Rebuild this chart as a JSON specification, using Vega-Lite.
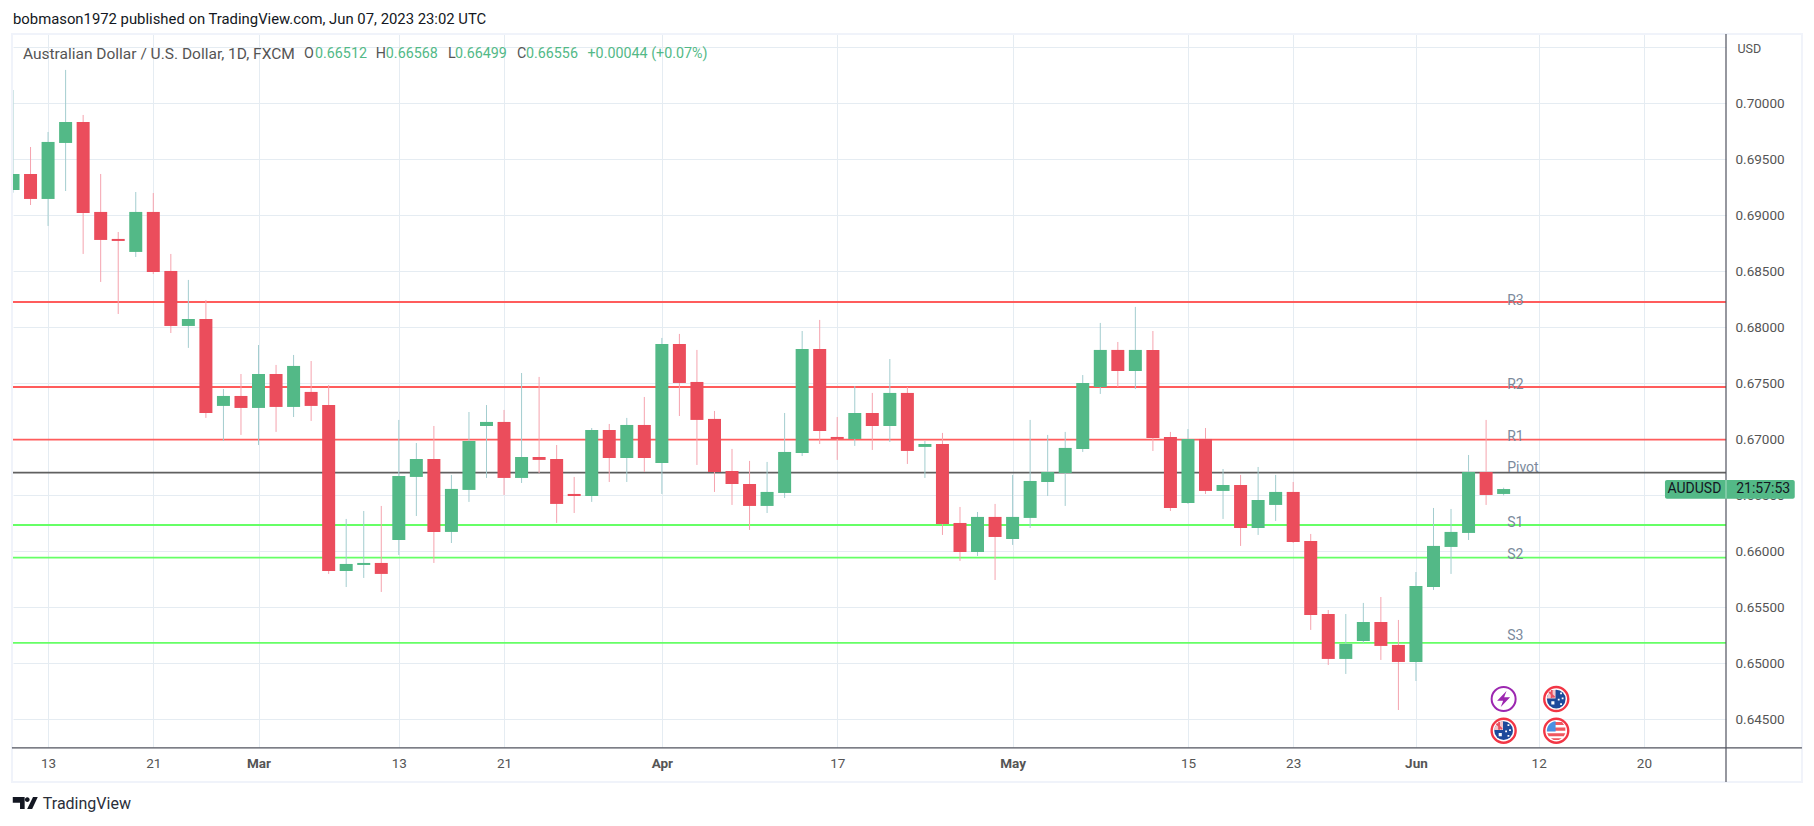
{"$schema":"https://vega.github.io/schema/vega-lite/v6.json","width":1713,"height":713,"autosize":"none","padding":{"left":13,"top":34,"right":88,"bottom":79},"background":"white","config":{"view":{"stroke":null},"font":"Roboto","scale":{"continuousPadding":0}},
"datasets":{
"candles":[
{"bar":0,"date":"2023-02-09","open":0.69226,"high":0.70119,"low":0.69202,"close":0.69369},
{"bar":1,"date":"2023-02-10","open":0.69369,"high":0.69610,"low":0.69092,"close":0.69146},
{"bar":2,"date":"2023-02-13","open":0.69146,"high":0.69744,"low":0.68905,"close":0.69655},
{"bar":3,"date":"2023-02-14","open":0.69646,"high":0.70298,"low":0.69217,"close":0.69833},
{"bar":4,"date":"2023-02-15","open":0.69833,"high":0.69896,"low":0.68655,"close":0.69021},
{"bar":5,"date":"2023-02-16","open":0.69030,"high":0.69369,"low":0.68405,"close":0.68780},
{"bar":6,"date":"2023-02-17","open":0.68789,"high":0.68851,"low":0.68119,"close":0.68771},
{"bar":7,"date":"2023-02-20","open":0.68673,"high":0.69208,"low":0.68628,"close":0.69030},
{"bar":8,"date":"2023-02-21","open":0.69030,"high":0.69199,"low":0.68476,"close":0.68494},
{"bar":9,"date":"2023-02-22","open":0.68503,"high":0.68655,"low":0.67949,"close":0.68012},
{"bar":10,"date":"2023-02-23","open":0.68012,"high":0.68423,"low":0.67816,"close":0.68074},
{"bar":11,"date":"2023-02-24","open":0.68074,"high":0.68244,"low":0.67191,"close":0.67235},
{"bar":12,"date":"2023-02-27","open":0.67298,"high":0.67449,"low":0.66985,"close":0.67387},
{"bar":13,"date":"2023-02-28","open":0.67387,"high":0.67583,"low":0.67039,"close":0.67280},
{"bar":14,"date":"2023-03-01","open":0.67280,"high":0.67842,"low":0.66949,"close":0.67583},
{"bar":15,"date":"2023-03-02","open":0.67583,"high":0.67664,"low":0.67066,"close":0.67289},
{"bar":16,"date":"2023-03-03","open":0.67289,"high":0.67753,"low":0.67199,"close":0.67655},
{"bar":17,"date":"2023-03-06","open":0.67423,"high":0.67699,"low":0.67164,"close":0.67298},
{"bar":18,"date":"2023-03-07","open":0.67306,"high":0.67485,"low":0.65798,"close":0.65824},
{"bar":19,"date":"2023-03-08","open":0.65824,"high":0.66289,"low":0.65681,"close":0.65887},
{"bar":20,"date":"2023-03-09","open":0.65878,"high":0.66360,"low":0.65762,"close":0.65896},
{"bar":21,"date":"2023-03-10","open":0.65896,"high":0.66405,"low":0.65637,"close":0.65798},
{"bar":22,"date":"2023-03-13","open":0.66101,"high":0.67173,"low":0.65967,"close":0.66673},
{"bar":23,"date":"2023-03-14","open":0.66664,"high":0.66967,"low":0.66315,"close":0.66824},
{"bar":24,"date":"2023-03-15","open":0.66824,"high":0.67119,"low":0.65896,"close":0.66173},
{"bar":25,"date":"2023-03-16","open":0.66173,"high":0.66682,"low":0.66074,"close":0.66557},
{"bar":26,"date":"2023-03-17","open":0.66548,"high":0.67244,"low":0.66441,"close":0.66985},
{"bar":27,"date":"2023-03-20","open":0.67119,"high":0.67306,"low":0.66655,"close":0.67155},
{"bar":28,"date":"2023-03-21","open":0.67155,"high":0.67262,"low":0.66503,"close":0.66655},
{"bar":29,"date":"2023-03-22","open":0.66655,"high":0.67592,"low":0.66610,"close":0.66842},
{"bar":30,"date":"2023-03-23","open":0.66842,"high":0.67557,"low":0.66699,"close":0.66816},
{"bar":31,"date":"2023-03-24","open":0.66824,"high":0.66949,"low":0.66253,"close":0.66423},
{"bar":32,"date":"2023-03-27","open":0.66512,"high":0.66664,"low":0.66342,"close":0.66494},
{"bar":33,"date":"2023-03-28","open":0.66494,"high":0.67101,"low":0.66441,"close":0.67083},
{"bar":34,"date":"2023-03-29","open":0.67083,"high":0.67137,"low":0.66619,"close":0.66833},
{"bar":35,"date":"2023-03-30","open":0.66833,"high":0.67191,"low":0.66619,"close":0.67128},
{"bar":36,"date":"2023-03-31","open":0.67128,"high":0.67378,"low":0.66708,"close":0.66833},
{"bar":37,"date":"2023-04-03","open":0.66789,"high":0.67905,"low":0.66512,"close":0.67851},
{"bar":38,"date":"2023-04-04","open":0.67851,"high":0.67941,"low":0.67208,"close":0.67503},
{"bar":39,"date":"2023-04-05","open":0.67512,"high":0.67798,"low":0.66771,"close":0.67173},
{"bar":40,"date":"2023-04-06","open":0.67182,"high":0.67253,"low":0.66530,"close":0.66708},
{"bar":41,"date":"2023-04-07","open":0.66717,"high":0.66914,"low":0.66414,"close":0.66601},
{"bar":42,"date":"2023-04-10","open":0.66601,"high":0.66807,"low":0.66191,"close":0.66405},
{"bar":43,"date":"2023-04-11","open":0.66405,"high":0.66798,"low":0.66342,"close":0.66530},
{"bar":44,"date":"2023-04-12","open":0.66521,"high":0.67235,"low":0.66476,"close":0.66887},
{"bar":45,"date":"2023-04-13","open":0.66878,"high":0.67967,"low":0.66851,"close":0.67807},
{"bar":46,"date":"2023-04-14","open":0.67807,"high":0.68066,"low":0.66958,"close":0.67074},
{"bar":47,"date":"2023-04-17","open":0.67021,"high":0.67199,"low":0.66816,"close":0.67003},
{"bar":48,"date":"2023-04-18","open":0.67003,"high":0.67476,"low":0.66941,"close":0.67235},
{"bar":49,"date":"2023-04-19","open":0.67235,"high":0.67414,"low":0.66905,"close":0.67119},
{"bar":50,"date":"2023-04-20","open":0.67119,"high":0.67717,"low":0.66976,"close":0.67414},
{"bar":51,"date":"2023-04-21","open":0.67414,"high":0.67467,"low":0.66780,"close":0.66896},
{"bar":52,"date":"2023-04-24","open":0.66932,"high":0.66985,"low":0.66655,"close":0.66958},
{"bar":53,"date":"2023-04-25","open":0.66958,"high":0.67057,"low":0.66146,"close":0.66244},
{"bar":54,"date":"2023-04-26","open":0.66253,"high":0.66396,"low":0.65914,"close":0.65994},
{"bar":55,"date":"2023-04-27","open":0.65994,"high":0.66351,"low":0.65958,"close":0.66307},
{"bar":56,"date":"2023-04-28","open":0.66307,"high":0.66423,"low":0.65744,"close":0.66128},
{"bar":57,"date":"2023-05-01","open":0.66110,"high":0.66682,"low":0.66057,"close":0.66307},
{"bar":58,"date":"2023-05-02","open":0.66298,"high":0.67173,"low":0.66208,"close":0.66628},
{"bar":59,"date":"2023-05-03","open":0.66619,"high":0.67039,"low":0.66494,"close":0.66708},
{"bar":60,"date":"2023-05-04","open":0.66699,"high":0.67066,"low":0.66405,"close":0.66923},
{"bar":61,"date":"2023-05-05","open":0.66914,"high":0.67574,"low":0.66887,"close":0.67503},
{"bar":62,"date":"2023-05-08","open":0.67467,"high":0.68039,"low":0.67405,"close":0.67798},
{"bar":63,"date":"2023-05-09","open":0.67798,"high":0.67869,"low":0.67467,"close":0.67610},
{"bar":64,"date":"2023-05-10","open":0.67610,"high":0.68182,"low":0.67449,"close":0.67798},
{"bar":65,"date":"2023-05-11","open":0.67798,"high":0.67967,"low":0.66896,"close":0.67012},
{"bar":66,"date":"2023-05-12","open":0.67021,"high":0.67066,"low":0.66360,"close":0.66387},
{"bar":67,"date":"2023-05-15","open":0.66431,"high":0.67092,"low":0.66423,"close":0.67003},
{"bar":68,"date":"2023-05-16","open":0.67003,"high":0.67101,"low":0.66512,"close":0.66539},
{"bar":69,"date":"2023-05-17","open":0.66539,"high":0.66735,"low":0.66289,"close":0.66592},
{"bar":70,"date":"2023-05-18","open":0.66592,"high":0.66682,"low":0.66048,"close":0.66208},
{"bar":71,"date":"2023-05-19","open":0.66208,"high":0.66753,"low":0.66146,"close":0.66458},
{"bar":72,"date":"2023-05-22","open":0.66414,"high":0.66682,"low":0.66271,"close":0.66530},
{"bar":73,"date":"2023-05-23","open":0.66530,"high":0.66619,"low":0.66074,"close":0.66083},
{"bar":74,"date":"2023-05-24","open":0.66092,"high":0.66155,"low":0.65298,"close":0.65431},
{"bar":75,"date":"2023-05-25","open":0.65440,"high":0.65476,"low":0.64985,"close":0.65039},
{"bar":76,"date":"2023-05-26","open":0.65039,"high":0.65440,"low":0.64905,"close":0.65173},
{"bar":77,"date":"2023-05-29","open":0.65199,"high":0.65539,"low":0.65181,"close":0.65369},
{"bar":78,"date":"2023-05-30","open":0.65369,"high":0.65592,"low":0.65030,"close":0.65155},
{"bar":79,"date":"2023-05-31","open":0.65164,"high":0.65387,"low":0.64583,"close":0.65012},
{"bar":80,"date":"2023-06-01","open":0.65012,"high":0.65815,"low":0.64842,"close":0.65690},
{"bar":81,"date":"2023-06-02","open":0.65681,"high":0.66387,"low":0.65655,"close":0.66048},
{"bar":82,"date":"2023-06-05","open":0.66039,"high":0.66378,"low":0.65798,"close":0.66173},
{"bar":83,"date":"2023-06-06","open":0.66164,"high":0.66860,"low":0.66101,"close":0.66708},
{"bar":84,"date":"2023-06-07","open":0.66708,"high":0.67173,"low":0.66414,"close":0.66503},
{"bar":85,"date":"2023-06-08","open":0.66512,"high":0.66568,"low":0.66499,"close":0.66556}],
"levels":[
{"name":"R3","price":0.68226,"labelPrice":0.68235,"tone":"resistance"},
{"name":"R2","price":0.67467,"labelPrice":0.67489,"tone":"resistance"},
{"name":"R1","price":0.66997,"labelPrice":0.67023,"tone":"resistance"},
{"name":"Pivot","price":0.66702,"labelPrice":0.66744,"tone":"pivot"},
{"name":"S1","price":0.66235,"labelPrice":0.66255,"tone":"support"},
{"name":"S2","price":0.65943,"labelPrice":0.65970,"tone":"support"},
{"name":"S3","price":0.65182,"labelPrice":0.65246,"tone":"support"}],
"frame":[{"bar":-0.06,"bar2":102.01,"price":0.70619,"price2":0.6394}],
"bottomAxis":[{"bar":-0.06,"bar2":102.01,"price":0.64245}],
"rightAxis":[{"bar":97.68,"price":0.70619,"price2":0.6394}],
"header":[
{"text":"Australian Dollar / U.S. Dollar, 1D, FXCM","bar":0.565,"tone":"grey"},
{"text":"O","bar":16.59,"tone":"grey"},
{"text":"0.66512","bar":17.22,"tone":"green"},
{"text":"H","bar":20.69,"tone":"grey"},
{"text":"0.66568","bar":21.26,"tone":"green"},
{"text":"L","bar":24.8,"tone":"grey"},
{"text":"0.66499","bar":25.2,"tone":"green"},
{"text":"C","bar":28.74,"tone":"grey"},
{"text":"0.66556","bar":29.25,"tone":"green"},
{"text":"+0.00044 (+0.07%)","bar":32.76,"tone":"green"}],
"publisher":[{"text":"bobmason1972 published on TradingView.com, Jun 07, 2023 23:02 UTC","bar":0,"price":0.70744}],
"brand":[{"text":"TradingView","bar":1.7,"price":0.63745}],
"logo":[{"bar":0.7,"price":0.63753}],
"currency":[{"text":"USD","bar":98.33,"price":0.70485}],
"tag":[{"bar":94.2,"bar2":101.6,"price":0.66637,"price2":0.6647}],
"tagDivider":[{"bar":97.68,"price":0.66637,"price2":0.6647}],
"tagText":[{"text":"AUDUSD","bar":95.88,"price":0.66553},{"text":"21:57:53","bar":99.8,"price":0.66553}],
"events":[
{"bar":85,"price":0.64681,"kind":"bolt"},
{"bar":88,"price":0.64681,"kind":"au"},
{"bar":85,"price":0.64398,"kind":"au"},
{"bar":88,"price":0.64398,"kind":"us"}]
},
"layer":[
{"data":{"name":"frame"},"mark":{"type":"rect","fill":"white","stroke":"#f0f3fa","strokeWidth":2,"fillOpacity":0},
 "encoding":{
  "x":{"field":"bar","type":"quantitative","title":null,"scale":{"domain":[0,97.68],"nice":false,"zero":false},
   "axis":{"values":[2,8,14,22,28,37,47,57,67,73,80,87,93],"labelExpr":"{'2':'13','8':'21','14':'Mar','22':'13','28':'21','37':'Apr','47':'17','57':'May','67':'15','73':'23','80':'Jun','87':'12','93':'20'}[datum.value]","domain":false,"ticks":false,"grid":true,"gridColor":"#e5ecf2","gridWidth":1,"labelFont":"Roboto","labelFontSize":13.5,"labelColor":"#555","labelPadding":9,"labelFontWeight":{"condition":{"test":"indexof([14,37,57,80],datum.value)>=0","value":"bold"},"value":"normal"},"labelOverlap":false,"zindex":0}},
  "x2":{"field":"bar2"},
  "y":{"field":"price","type":"quantitative","title":null,"scale":{"domain":[0.642527,0.706188],"nice":false,"zero":false},
   "axis":{"orient":"right","values":[0.645,0.65,0.655,0.66,0.665,0.67,0.675,0.68,0.685,0.69,0.695,0.7,0.705],"labelExpr":"datum.value>0.704?'':format(datum.value,'.5f')","domain":false,"ticks":false,"grid":true,"gridColor":"#e5ecf2","gridWidth":1,"labelFont":"Roboto","labelFontSize":13.5,"labelColor":"#555","labelPadding":9,"labelOverlap":false,"zindex":0}},
  "y2":{"field":"price2"}}},
{"data":{"name":"levels"},"mark":{"type":"rule","strokeWidth":1.8},
 "encoding":{"y":{"field":"price","type":"quantitative","title":null,"scale":{"domain":[0.642527,0.706188],"nice":false,"zero":false}},
  "color":{"condition":[{"test":"datum.tone=='resistance'","value":"#ff5c5c"},{"test":"datum.tone=='support'","value":"#66ff66"}],"value":"#606060"}}},
{"data":{"name":"candles"},"mark":{"type":"rule","strokeWidth":1,"clip":true},
 "encoding":{"x":{"field":"bar","type":"quantitative","title":null,"scale":{"domain":[0,97.68],"nice":false,"zero":false}},"y":{"field":"low","type":"quantitative","title":null,"scale":{"domain":[0.642527,0.706188],"nice":false,"zero":false}},"y2":{"field":"high"},
  "color":{"condition":{"test":"datum.close>=datum.open","value":"#a3cdcf"},"value":"#f5a3ae"}}},
{"data":{"name":"candles"},"mark":{"type":"bar","size":13,"clip":true,"stroke":null},
 "encoding":{"x":{"field":"bar","type":"quantitative","title":null,"scale":{"domain":[0,97.68],"nice":false,"zero":false}},"y":{"field":"open","type":"quantitative","title":null,"scale":{"domain":[0.642527,0.706188],"nice":false,"zero":false}},"y2":{"field":"close"},
  "color":{"condition":{"test":"datum.close>=datum.open","value":"#53b987"},"value":"#eb4d5c"}}},
{"data":{"name":"levels"},"mark":{"type":"text","align":"left","baseline":"middle","font":"Roboto","fontSize":14,"color":"#7b8a9c"},
 "encoding":{"x":{"datum":85.2,"type":"quantitative","scale":{"domain":[0,97.68],"nice":false,"zero":false}},"y":{"field":"labelPrice","type":"quantitative","title":null,"scale":{"domain":[0.642527,0.706188],"nice":false,"zero":false}},"text":{"field":"name"}}},
{"data":{"name":"header"},"mark":{"type":"text","align":"left","baseline":"middle","font":"Roboto"},
 "encoding":{"x":{"field":"bar","type":"quantitative","title":null,"scale":{"domain":[0,97.68],"nice":false,"zero":false}},"y":{"datum":0.70443,"type":"quantitative","scale":{"domain":[0.642527,0.706188],"nice":false,"zero":false}},"text":{"field":"text"},
  "size":{"condition":{"test":"datum.bar<1","value":15.5},"value":14.3},
  "color":{"condition":{"test":"datum.tone=='green'","value":"#53b987"},"value":"#555"}}},
{"data":{"name":"publisher"},"mark":{"type":"text","align":"left","baseline":"middle","font":"Roboto","fontSize":14.85,"color":"#131722"},
 "encoding":{"x":{"field":"bar","type":"quantitative","title":null,"scale":{"domain":[0,97.68],"nice":false,"zero":false}},"y":{"field":"price","type":"quantitative","title":null,"scale":{"domain":[0.642527,0.706188],"nice":false,"zero":false}},"text":{"field":"text"}}},
{"data":{"name":"brand"},"mark":{"type":"text","align":"left","baseline":"middle","font":"Roboto","fontSize":16,"color":"#2a2e39"},
 "encoding":{"x":{"field":"bar","type":"quantitative","title":null,"scale":{"domain":[0,97.68],"nice":false,"zero":false}},"y":{"field":"price","type":"quantitative","title":null,"scale":{"domain":[0.642527,0.706188],"nice":false,"zero":false}},"text":{"field":"text"}}},
{"data":{"name":"logo"},"mark":{"type":"point","filled":true,"opacity":1,"size":625,"color":"#131722","strokeWidth":0,"shape":"M-1,-.48H-.05V.48H-.42V-.02H-1ZM.62,-.48H1L.55,.48H.15ZM.16,-.46A.19,.19 0 1 1 .16,-.08A.19,.19 0 1 1 .16,-.46Z"},
 "encoding":{"x":{"field":"bar","type":"quantitative","title":null,"scale":{"domain":[0,97.68],"nice":false,"zero":false}},"y":{"field":"price","type":"quantitative","title":null,"scale":{"domain":[0.642527,0.706188],"nice":false,"zero":false}}}},
{"data":{"name":"rightAxis"},"mark":{"type":"rule","color":"#50535e","strokeWidth":1.2},
 "encoding":{"x":{"field":"bar","type":"quantitative","title":null,"scale":{"domain":[0,97.68],"nice":false,"zero":false}},"y":{"field":"price","type":"quantitative","title":null,"scale":{"domain":[0.642527,0.706188],"nice":false,"zero":false}},"y2":{"field":"price2"}}},
{"data":{"name":"bottomAxis"},"mark":{"type":"rule","color":"#50535e","strokeWidth":1.2},
 "encoding":{"x":{"field":"bar","type":"quantitative","title":null,"scale":{"domain":[0,97.68],"nice":false,"zero":false}},"x2":{"field":"bar2"},"y":{"field":"price","type":"quantitative","title":null,"scale":{"domain":[0.642527,0.706188],"nice":false,"zero":false}}}},
{"data":{"name":"currency"},"mark":{"type":"text","align":"left","baseline":"middle","font":"Roboto","fontSize":12.5,"color":"#555"},
 "encoding":{"x":{"field":"bar","type":"quantitative","title":null,"scale":{"domain":[0,97.68],"nice":false,"zero":false}},"y":{"field":"price","type":"quantitative","title":null,"scale":{"domain":[0.642527,0.706188],"nice":false,"zero":false}},"text":{"field":"text"}}},
{"data":{"name":"tag"},"mark":{"type":"rect","fill":"#53b987","cornerRadius":2},
 "encoding":{"x":{"field":"bar","type":"quantitative","title":null,"scale":{"domain":[0,97.68],"nice":false,"zero":false}},"x2":{"field":"bar2"},"y":{"field":"price","type":"quantitative","title":null,"scale":{"domain":[0.642527,0.706188],"nice":false,"zero":false}},"y2":{"field":"price2"}}},
{"data":{"name":"tagDivider"},"mark":{"type":"rule","color":"#a9dcc3","strokeWidth":1},
 "encoding":{"x":{"field":"bar","type":"quantitative","title":null,"scale":{"domain":[0,97.68],"nice":false,"zero":false}},"y":{"field":"price","type":"quantitative","title":null,"scale":{"domain":[0.642527,0.706188],"nice":false,"zero":false}},"y2":{"field":"price2"}}},
{"data":{"name":"tagText"},"mark":{"type":"text","align":"center","baseline":"middle","font":"Roboto","fontSize":14,"color":"#131722"},
 "encoding":{"x":{"field":"bar","type":"quantitative","title":null,"scale":{"domain":[0,97.68],"nice":false,"zero":false}},"y":{"field":"price","type":"quantitative","title":null,"scale":{"domain":[0.642527,0.706188],"nice":false,"zero":false}},"text":{"field":"text"}}},
{"data":{"name":"events"},"transform":[{"filter":"datum.kind=='bolt'"}],"mark":{"type":"point","shape":"circle","size":576,"fill":"white","fillOpacity":1,"stroke":"#9c27b0","strokeWidth":2,"opacity":1},
 "encoding":{"x":{"field":"bar","type":"quantitative","title":null,"scale":{"domain":[0,97.68],"nice":false,"zero":false}},"y":{"field":"price","type":"quantitative","title":null,"scale":{"domain":[0.642527,0.706188],"nice":false,"zero":false}}}},
{"data":{"name":"events"},"transform":[{"filter":"datum.kind=='bolt'"}],"mark":{"type":"point","filled":true,"size":676,"color":"#9c27b0","opacity":1,"strokeWidth":0,"shape":"M.22,-.62L-.5,.14H-.04L-.22,.62L.5,-.14H.04Z"},
 "encoding":{"x":{"field":"bar","type":"quantitative","title":null,"scale":{"domain":[0,97.68],"nice":false,"zero":false}},"y":{"field":"price","type":"quantitative","title":null,"scale":{"domain":[0.642527,0.706188],"nice":false,"zero":false}}}},
{"data":{"name":"events"},"transform":[{"filter":"datum.kind!='bolt'"}],"mark":{"type":"point","shape":"circle","size":576,"fill":"white","fillOpacity":1,"stroke":"#f23645","strokeWidth":2.4,"opacity":1},
 "encoding":{"x":{"field":"bar","type":"quantitative","title":null,"scale":{"domain":[0,97.68],"nice":false,"zero":false}},"y":{"field":"price","type":"quantitative","title":null,"scale":{"domain":[0.642527,0.706188],"nice":false,"zero":false}}}},
{"data":{"name":"events"},"transform":[{"filter":"datum.kind=='au'"}],"mark":{"type":"point","shape":"circle","size":350,"filled":true,"color":"#1d4a9b","opacity":1,"strokeWidth":0},
 "encoding":{"x":{"field":"bar","type":"quantitative","title":null,"scale":{"domain":[0,97.68],"nice":false,"zero":false}},"y":{"field":"price","type":"quantitative","title":null,"scale":{"domain":[0.642527,0.706188],"nice":false,"zero":false}}}},
{"data":{"name":"events"},"transform":[{"filter":"datum.kind=='au'"}],"mark":{"type":"point","filled":true,"size":676,"color":"#f3c6cc","opacity":1,"strokeWidth":0,"shape":"M-.72,-.05A.72,.72 0 0 1 -.05,-.72V-.05Z"},
 "encoding":{"x":{"field":"bar","type":"quantitative","title":null,"scale":{"domain":[0,97.68],"nice":false,"zero":false}},"y":{"field":"price","type":"quantitative","title":null,"scale":{"domain":[0.642527,0.706188],"nice":false,"zero":false}}}},
{"data":{"name":"events"},"transform":[{"filter":"datum.kind=='au'"}],"mark":{"type":"point","filled":true,"size":676,"color":"#e9505f","opacity":1,"strokeWidth":0,"shape":"M-.5,-.6L-.08,-.18L-.18,-.08L-.6,-.5ZM-.42,-.7H-.28V-.08H-.42Z"},
 "encoding":{"x":{"field":"bar","type":"quantitative","title":null,"scale":{"domain":[0,97.68],"nice":false,"zero":false}},"y":{"field":"price","type":"quantitative","title":null,"scale":{"domain":[0.642527,0.706188],"nice":false,"zero":false}}}},
{"data":{"name":"events"},"transform":[{"filter":"datum.kind=='au'"}],"mark":{"type":"point","filled":true,"size":676,"color":"white","opacity":1,"strokeWidth":0,"shape":"M-.38,.18h.24v.24h-.24ZM.3,-.5h.14v.14h-.14ZM.42,-.12h.14v.14h-.14ZM.12,-.02h.14v.14h-.14ZM.3,.32h.14v.14h-.14Z"},
 "encoding":{"x":{"field":"bar","type":"quantitative","title":null,"scale":{"domain":[0,97.68],"nice":false,"zero":false}},"y":{"field":"price","type":"quantitative","title":null,"scale":{"domain":[0.642527,0.706188],"nice":false,"zero":false}}}},
{"data":{"name":"events"},"transform":[{"filter":"datum.kind=='us'"}],"mark":{"type":"point","filled":true,"size":676,"color":"#f0575f","opacity":1,"strokeWidth":0,"shape":"M-.1,-.68H.45L.6,-.45H-.1ZM-.1,-.24H.7V0H-.1ZM-.7,.2H.7L.58,.42H-.58ZM-.42,.58H.42L.2,.72H-.2Z"},
 "encoding":{"x":{"field":"bar","type":"quantitative","title":null,"scale":{"domain":[0,97.68],"nice":false,"zero":false}},"y":{"field":"price","type":"quantitative","title":null,"scale":{"domain":[0.642527,0.706188],"nice":false,"zero":false}}}},
{"data":{"name":"events"},"transform":[{"filter":"datum.kind=='us'"}],"mark":{"type":"point","filled":true,"size":676,"color":"#4a90e2","opacity":1,"strokeWidth":0,"shape":"M-.72,.05A.72,.72 0 0 1 -.05,-.72V.05Z"},
 "encoding":{"x":{"field":"bar","type":"quantitative","title":null,"scale":{"domain":[0,97.68],"nice":false,"zero":false}},"y":{"field":"price","type":"quantitative","title":null,"scale":{"domain":[0.642527,0.706188],"nice":false,"zero":false}}}}
]}
